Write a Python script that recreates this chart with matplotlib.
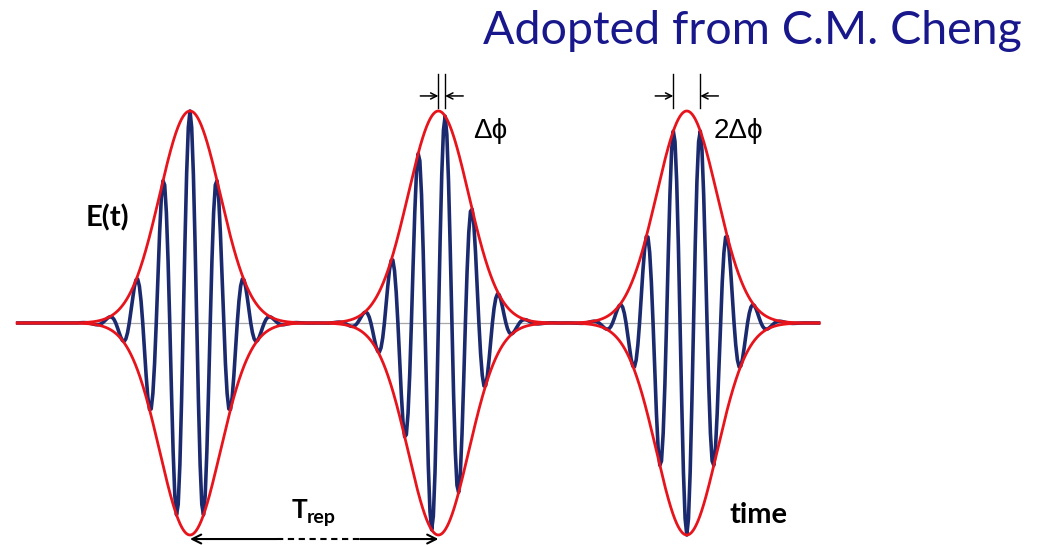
import matplotlib
matplotlib.use("Agg")
import matplotlib.pyplot as plt
import numpy as np

# Pulse train parameters (time in carrier periods, field normalised to peak = 1)
pulse_centers = [0.0, 9.2, 18.4]        # envelope maxima, spaced by T_rep
carrier_shifts = [0.0, 0.25, 0.5]       # carrier peak offset from envelope peak (fraction of a period)
envelope_sigma = 1.12                   # Gaussian width of each pulse
carrier_period = 1.0
t_start, t_end = -6.4, 23.3

env_color = "#e8141c"
carrier_color = "#1b2a6e"

# Plot scaling: 27 px per period, 212 px per unit field, baseline at y=323 px
px_per_t = 27.0
px_per_e = 212.0
x0_px, y0_px = 190.0, 323.0
W, H = 1037, 545

fig = plt.figure(figsize=(W / 100, H / 100), dpi=100)
ax = fig.add_axes([0, 0, 1, 1])
ax.set_xlim((0 - x0_px) / px_per_t, (W - x0_px) / px_per_t)
ax.set_ylim((y0_px - H) / px_per_e, y0_px / px_per_e)
ax.axis("off")


def envelope(t):
    return sum(np.exp(-(t - c) ** 2 / (2 * envelope_sigma ** 2)) for c in pulse_centers)


# carrier: each pulse sampled on a grid locked to its own carrier phase
t_parts, e_parts = [], []
half = (pulse_centers[1] - pulse_centers[0]) / 2
for i, (c, s) in enumerate(zip(pulse_centers, carrier_shifts)):
    lo = t_start if i == 0 else c - half
    hi = t_end if i == len(pulse_centers) - 1 else c + half
    ref = c + s * carrier_period
    step = carrier_period / 16
    k = np.arange(np.ceil((lo - ref) / step), np.floor((hi - ref) / step) + 1)
    t = ref + k * step
    e = np.exp(-(t - c) ** 2 / (2 * envelope_sigma ** 2)) * np.cos(2 * np.pi * (t - ref) / carrier_period)
    t_parts.append(t)
    e_parts.append(e)
t_car = np.concatenate(t_parts)
e_car = np.concatenate(e_parts)

t_env = np.linspace(t_start, t_end, 3000)
env = envelope(t_env)

ax.plot([t_start, t_end], [0, 0], color="#a8a8a8", lw=0.9, zorder=1)
ax.plot(t_car, e_car, color=carrier_color, lw=2.6, zorder=2)
ax.plot(t_env, env, color=env_color, lw=2.0, zorder=3)
ax.plot(t_env, -env, color=env_color, lw=2.0, zorder=3)

# phase-slip markers above pulses 2 and 3
tick_lo, tick_hi, arr_y, arr_len = 1.015, 1.175, 1.071, 0.67
arrow_kw = dict(arrowstyle="->", lw=1.1, color="black", shrinkA=0, shrinkB=0,
                mutation_scale=11)
c2 = pulse_centers[1]
p2 = c2 + carrier_shifts[1] * carrier_period
c3 = pulse_centers[2]
p3 = c3 + carrier_shifts[2] * carrier_period
for a, b in [(c2, p2), (p3 - carrier_period, p3)]:
    ax.plot([a, a], [tick_lo, tick_hi], color="black", lw=1.0)
    ax.plot([b, b], [tick_lo, tick_hi], color="black", lw=1.0)
    ax.annotate("", xy=(a, arr_y), xytext=(a - arr_len, arr_y), arrowprops=arrow_kw)
    ax.annotate("", xy=(b, arr_y), xytext=(b + arr_len, arr_y), arrowprops=arrow_kw)

sym_font = ["Liberation Sans", "DejaVu Sans"]
ax.text(c2 + 1.28, 0.906, "\u0394\u03d5", fontsize=20, family=sym_font, va="center", ha="left")
ax.text(c3 + 0.98, 0.906, "2\u0394\u03d5", fontsize=20, family=sym_font, va="center", ha="left")

# repetition period arrow between pulses 1 and 2
y_rep = -1.019
c1 = pulse_centers[0]
s1, s2 = c1 + 3.22, c1 + 6.3
rep_kw = dict(arrowstyle="->", lw=1.5, color="black", shrinkA=0, shrinkB=0, mutation_scale=16)
ax.annotate("", xy=(c1, y_rep), xytext=(s1, y_rep), arrowprops=rep_kw)
ax.annotate("", xy=(c2, y_rep), xytext=(s2, y_rep), arrowprops=rep_kw)
ax.plot([s1, s2], [y_rep, y_rep], color="black", lw=1.5, linestyle=(0, (3, 2.2)))

lbl_font = ["Lato", "DejaVu Sans"]
ax.text(3.78, -0.92, "T", fontsize=19, fontweight="bold", family=lbl_font, va="baseline", ha="left")
ax.text(4.33, -0.945, "rep", fontsize=14, fontweight="bold", family=lbl_font, va="baseline", ha="left")
ax.text(20.0, -0.943, "time", fontsize=21, fontweight="bold", family=lbl_font, va="baseline", ha="left")
ax.text(-3.04, 0.495, "E(t)", fontsize=21, fontweight="bold", family=lbl_font, va="center", ha="center")

fig.text(1022 / W, 1 - 31 / H, "Adopted from C.M. Cheng", fontsize=33.5, color="#18188c",
         family=lbl_font, ha="right", va="center")

fig.savefig("out.png", dpi=100)
